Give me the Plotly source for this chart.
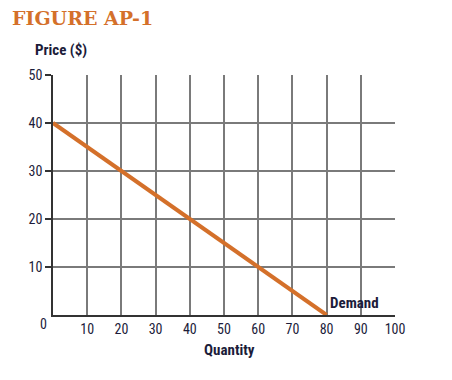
import plotly.graph_objects as go

quantity = [0, 80]
price = [40, 0]
x_ticks = [10, 20, 30, 40, 50, 60, 70, 80, 90, 100]
y_ticks = [10, 20, 30, 40, 50]

FONT = "Liberation Sans Narrow, Roboto Condensed, DejaVu Sans Condensed, Arial Narrow, sans-serif"
TXT = "#1c1c3a"
ORANGE = "#d4702a"

L, R, T, B = 45, 65, 67, 73
PW, PH = 452 - L - R, 380 - T - B

fig = go.Figure()
fig.add_trace(go.Scatter(x=quantity, y=price, mode="lines",
                         line=dict(color=ORANGE, width=4), showlegend=False,
                         hoverinfo="skip"))

fig.update_layout(
    width=452, height=380,
    margin=dict(l=L, r=R, t=T, b=B),
    paper_bgcolor="white", plot_bgcolor="white",
    font=dict(family=FONT, color=TXT, size=14),
    xaxis=dict(range=[0, 100], tickvals=x_ticks, ticktext=[str(v) for v in x_ticks],
               showgrid=True, gridcolor="#7a7a7a", gridwidth=1.5,
               showline=True, linecolor="#333333", linewidth=1.5, mirror=False,
               ticks="", zeroline=False, fixedrange=True,
               tickfont=dict(family=FONT, size=14, color=TXT)),
    yaxis=dict(range=[0, 50], tickvals=y_ticks, ticktext=[str(v) for v in y_ticks],
               showgrid=True, gridcolor="#7a7a7a", gridwidth=1.5,
               showline=True, linecolor="#333333", linewidth=1.5,
               ticks="outside", ticklen=6, tickcolor="#333333", tickwidth=1.5,
               zeroline=False, fixedrange=True,
               tickfont=dict(family=FONT, size=14, color=TXT)),
)

def px(xp):
    return (xp - L) / PW

def py(yp):
    return 1 - (yp - T) / PH

# positions below are in figure (div) pixel coordinates
fig.add_annotation(text="<b>FIGURE AP-1</b>", xref="paper", yref="paper",
                   x=px(3), y=py(10), xanchor="left", yanchor="middle",
                   showarrow=False, borderpad=0,
                   font=dict(family="DejaVu Serif, Liberation Serif, serif", size=19, color=ORANGE))
fig.add_annotation(text="<b>Price ($)</b>", xref="paper", yref="paper",
                   x=px(25), y=py(42), xanchor="left", yanchor="middle",
                   showarrow=False, font=dict(family=FONT, size=15, color=TXT))
fig.add_annotation(text="<b>Quantity</b>", xref="paper", yref="paper",
                   x=px(221), y=py(342), xanchor="center", yanchor="middle",
                   showarrow=False, font=dict(family=FONT, size=15, color=TXT))
fig.add_annotation(text="0", xref="paper", yref="paper",
                   x=px(35), y=py(316), xanchor="center", yanchor="middle",
                   showarrow=False, font=dict(family=FONT, size=14, color=TXT))
fig.add_annotation(text="<b>Demand</b>", x=80.5, y=0.3, xanchor="left", yanchor="bottom",
                   showarrow=False, font=dict(family=FONT, size=15, color=TXT))

fig.write_html("out.html")
